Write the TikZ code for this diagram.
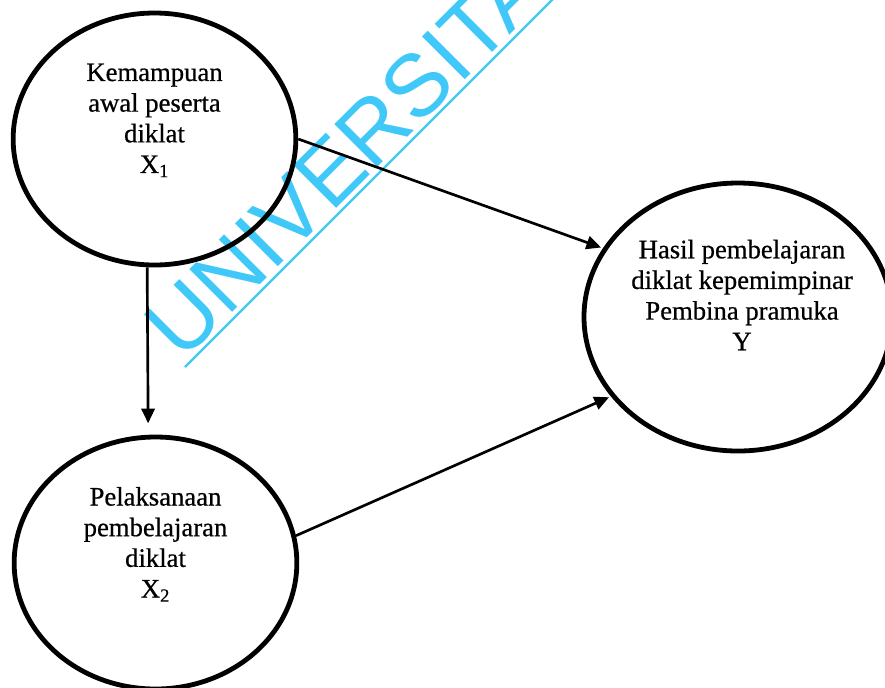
\documentclass[tikz,border=0pt]{standalone}
\usepackage{fontspec}
\setmainfont{Liberation Serif}
\newfontfamily\scanfont{Liberation Serif}[FakeBold=0.6]
\newfontfamily\wmfont{Liberation Sans}
\usetikzlibrary{shapes.geometric,arrows.meta,calc}
\definecolor{wmcyan}{RGB}{64,200,248}

\begin{document}
\begin{tikzpicture}[
  x=0.75pt, y=-0.75pt,
  var/.style={ellipse, draw, line width=3.6pt, inner sep=0pt},
  lbl/.style={align=center, inner sep=0pt, font=\scanfont\fontsize{20}{23}\selectfont},
  arr/.style={-{Triangle[length=11pt,width=10pt]}, line width=2pt, shorten >=1.5pt},
  wm/.style={text=wmcyan, font=\wmfont\fontsize{66}{66}\selectfont, inner sep=0pt}
]
\useasboundingbox (0,0) rectangle (885,687);
\clip (0,0) rectangle (885,687);

% Scan watermark, laid under the diagram.
\node[wm, anchor=base west, rotate=45] (WM) at (182.5,362.5) {UNIVERSITA};
\draw[wmcyan, line width=1.8pt] (185,367) -- (560,-8);

% The three variables; each label sits a little above the centre.
\node[var, minimum width=212pt, minimum height=189pt] (X1) at (154.5,139) {};
\node[var, minimum width=212pt, minimum height=189pt] (X2) at (155.5,563) {};
\node[var, minimum width=231pt, minimum height=201pt] (Y) at (738,317) {};

\node[lbl] (X1l) at ($(X1.center)+(0,14pt)$) {Kemampuan\\awal peserta\\diklat\\X\textsubscript{1}};
\node[lbl] (X2l) at ($(X2.center)+(0,14pt)$) {Pelaksanaan\\pembelajaran\\diklat\\X\textsubscript{2}};
\node[lbl] (Yl) at ($(Y.center)+(3pt,16.5pt)$) {Hasil pembelajaran\\diklat kepemimpinar\\Pembina pramuka\\Y};

% Paths.
\draw[arr] (X1.east) -- (Y.153);
\draw[arr] (X2.11) -- (Y.212);
\draw[arr] ([xshift=-5.5pt]X1.south) -- ([xshift=-5.5pt,yshift=7pt]X2.north);

\end{tikzpicture}
\end{document}
